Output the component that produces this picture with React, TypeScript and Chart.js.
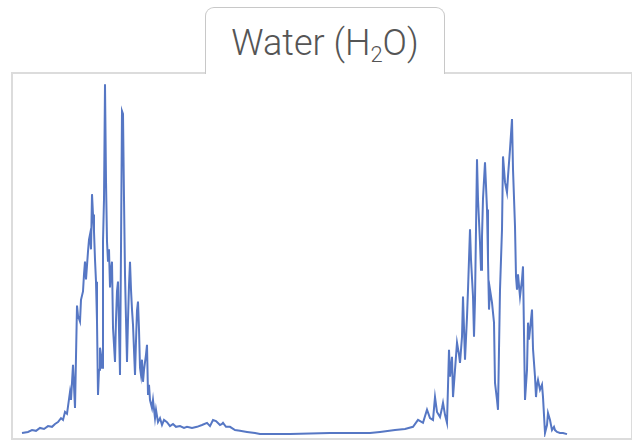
import React, { useEffect, useRef } from "react";
import { Chart, registerables } from "chart.js";

Chart.register(...registerables);

// Spectrum: position along the band axis and relative absorbance (0-100)
const TITLE = "Water (H";
const TITLE_SUB = "2";
const TITLE_END = "O)";

const positions: number[] = [
  9, 15, 19, 23, 27, 31, 35, 39, 42, 45, 48, 50, 52, 54, 57, 58, 60, 62, 64, 65, 67, 68, 70, 71, 72, 73, 75, 76, 77, 78,
  79, 80, 81, 82, 83, 84, 85, 86, 87, 88, 89, 90, 91, 92, 93, 94, 95, 96, 97, 98, 99, 100, 101, 102, 103, 104, 105,
  106, 107, 108, 109, 110, 111, 112, 113, 114, 115, 116, 117, 118, 119, 120, 121, 122, 123, 124, 125, 126, 127, 128,
  129, 130, 131, 133, 134, 135, 136, 137, 139, 140, 142, 143, 145, 147, 149, 151, 154, 157, 160, 163, 167, 171, 174,
  179, 184, 189, 194, 197, 200, 203, 207, 209, 210, 213, 217, 222, 227, 234, 242, 247, 257, 277, 317, 357,
  367, 382, 392, 400, 405, 410, 414, 417, 420, 422, 424, 427, 429, 430, 432, 434, 436, 437, 439, 440, 442, 444, 446,
  447, 449, 450, 452, 454, 455, 457, 458, 460, 461, 462, 464, 465, 467, 468, 469, 470, 472, 474, 475, 476, 477, 479,
  481, 482, 484, 485, 487, 489, 490, 492, 494, 495, 497, 499, 500, 502, 503, 504, 505, 507, 509, 510, 512, 514, 515,
  516, 517, 519, 520, 522, 523, 524, 525, 527, 529, 530, 532, 534, 535, 537, 539, 541, 542, 544, 547, 550, 554, 562,
  572, 587, 602, 616,
];

const absorbance: number[] = [
  1.1, 1.4, 1.9, 1.7, 2.5, 2.2, 3.0, 2.8, 3.6, 4.1, 5.2, 4.7, 6.9, 6.4, 12.4, 10.2, 19.9, 8.0, 36.2, 33.4, 31.8, 37.8,
  40.1, 44.8, 48.3, 43.4, 51.1, 54.4, 55.8, 51.7, 66.9, 61.3, 56.6, 48.9, 42.8, 31.8, 11.6, 18.5, 24.6, 22.7, 19.1,
  53.9, 65.5, 97.2, 70.7, 53.9, 48.3, 51.7, 41.2, 46.1, 48.3, 30.1, 25.4, 20.7, 32.3, 40.1, 42.8, 29.6, 17.1, 51.7,
  89.8, 89.0, 65.7, 44.8, 32.3, 20.7, 32.3, 41.8, 48.3, 40.6, 35.1, 30.9, 24.0, 17.1, 26.5, 34.8, 37.3, 29.6, 19.1,
  17.1, 21.3, 15.2, 18.5, 22.7, 25.4, 11.6, 14.4, 10.2, 8.0, 10.2, 5.2, 7.5, 4.1, 5.2, 3.3, 4.7, 4.1, 3.0, 3.6, 2.8,
  3.0, 2.5, 2.8, 2.5, 2.8, 3.3, 3.9, 3.0, 4.7, 4.4, 3.3, 3.6, 3.9, 2.8, 2.8, 1.9, 1.7, 1.4, 1.1, 0.8, 0.8, 0.8,
  1.1, 1.1, 1.4, 1.9, 2.2, 2.8, 4.7, 3.9, 7.5, 5.2, 4.7, 11.0, 6.9, 5.5, 8.0, 9.4, 6.1, 3.9, 24.0, 16.6, 22.1, 11.0,
  18.5, 26.0, 22.7, 20.4, 27.6, 38.7, 21.3, 33.1, 40.6, 57.2, 48.9, 38.7, 27.6, 37.8, 76.5, 65.5, 53.6, 46.1, 55.2,
  65.7, 75.7, 62.7, 48.9, 35.1, 40.6, 37.0, 31.5, 14.9, 10.2, 7.5, 40.6, 57.2, 77.3, 70.2, 67.4, 71.8, 79.3, 87.6,
  73.8, 58.0, 44.2, 40.6, 44.8, 38.7, 43.4, 47.0, 10.2, 18.5, 31.5, 26.8, 29.6, 35.1, 24.3, 16.6, 11.0, 14.4, 15.7,
  13.0, 14.4, 11.0, 1.1, 3.3, 6.6, 4.7, 1.9, 2.8, 1.9, 1.4, 1.1, 1.1, 0.8,
];

const LINE_COLOR = "#5677c4";

export default function App() {
  const canvasRef = useRef<HTMLCanvasElement | null>(null);

  useEffect(() => {
    if (!canvasRef.current) return;
    const points = positions.map((x, i) => ({ x, y: absorbance[i] }));
    const chart = new Chart(canvasRef.current, {
      type: "line",
      data: {
        datasets: [
          {
            data: points,
            borderColor: LINE_COLOR,
            borderWidth: 2,
            pointRadius: 0,
            tension: 0,
            fill: false,
          },
        ],
      },
      options: {
        animation: false,
        responsive: false,
        maintainAspectRatio: false,
        layout: { padding: 0 },
        plugins: { legend: { display: false }, tooltip: { enabled: false } },
        scales: {
          x: { type: "linear", min: 0, max: 617, display: false },
          y: { type: "linear", min: 0, max: 100, display: false },
        },
      },
    });
    return () => chart.destroy();
  }, []);

  return (
    <div
      style={{
        position: "fixed",
        left: 0,
        top: 0,
        width: 632,
        height: 440,
        background: "#fff",
        overflow: "hidden",
      }}
    >
      <div
        style={{
          position: "absolute",
          left: 11,
          top: 72,
          width: 618,
          height: 364,
          border: "2px solid #dcdcdc",
        }}
      />
      <div
        style={{
          position: "absolute",
          left: 205,
          top: 7,
          width: 240,
          height: 67,
          border: "1.5px solid #c8c8c8",
          borderBottom: "none",
          borderRadius: "9px 9px 0 0",
          background: "#fff",
          boxSizing: "border-box",
          display: "flex",
          alignItems: "center",
          justifyContent: "center",
          fontFamily: "Roboto, 'Open Sans', sans-serif",
          fontWeight: 300,
          fontSize: 36,
          color: "#555",
          paddingTop: 6,
        }}
      >
        <span>
          {TITLE}
          <sub style={{ fontSize: 22, verticalAlign: "-7px" }}>{TITLE_SUB}</sub>
          {TITLE_END}
        </span>
      </div>
      <canvas
        ref={canvasRef}
        width={617}
        height={363}
        style={{ position: "absolute", left: 13, top: 74, width: 617, height: 363 }}
      />
    </div>
  );
}
